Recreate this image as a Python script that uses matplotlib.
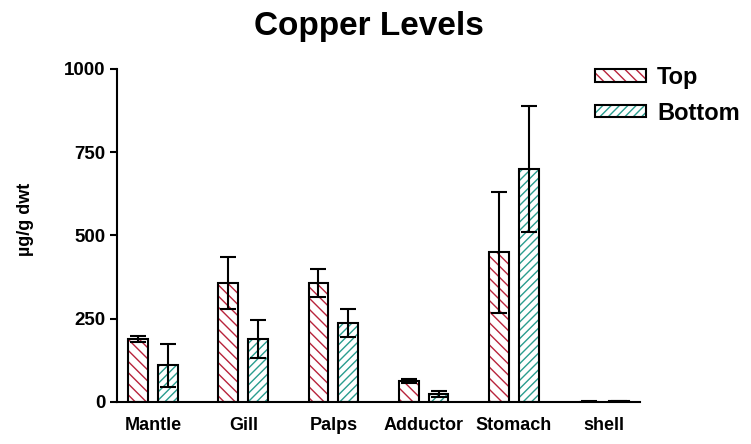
import matplotlib.pyplot as plt
import numpy as np
from matplotlib.patches import Patch

plt.rcParams['font.family'] = ['Liberation Sans', 'DejaVu Sans']
plt.rcParams['font.weight'] = 'bold'
plt.rcParams['hatch.linewidth'] = 1.0

# data
tissues = ['Mantle', 'Gill', 'Palps', 'Adductor', 'Stomach', 'shell']
top_mean = [188, 357, 357, 63, 450, 1]
top_err = [9, 79, 42, 5, 182, 1]
bottom_mean = [110, 189, 237, 24, 700, 2]
bottom_err = [65, 57, 42, 8, 190, 1]

red = '#b8243c'
teal = '#2a9d8f'

fig = plt.figure(figsize=(7.51, 4.44), dpi=100)
ax = fig.add_axes([0.156, 0.0946, 0.696, 0.75])

x = np.arange(len(tissues))
w = 0.22
off = 0.166

# hatch layer then black outline on top
for xs, ys, es, col, hatch in [(x - off, top_mean, top_err, red, '\\\\\\'),
                               (x + off, bottom_mean, bottom_err, teal, '////')]:
    ax.bar(xs, ys, w, facecolor='white', edgecolor=col, hatch=hatch, linewidth=0)
    ax.bar(xs, ys, w, facecolor='none', edgecolor='black', linewidth=1.5)
    ax.errorbar(xs, ys, yerr=es, fmt='none', ecolor='black', elinewidth=1.5,
                capsize=5.5, capthick=1.5)

ax.set_xlim(-0.4, 5.4)
ax.set_ylim(0, 1000)
ax.set_yticks([0, 250, 500, 750, 1000])
ax.set_xticks(x)
ax.set_xticklabels(tissues, fontsize=13, fontweight='bold')
ax.tick_params(axis='x', length=0, pad=11)
ax.tick_params(axis='y', length=5, width=1.5, labelsize=13.5, direction='out')
for lbl in ax.get_yticklabels():
    lbl.set_fontweight('bold')
ax.spines['top'].set_visible(False)
ax.spines['right'].set_visible(False)
ax.spines['left'].set_linewidth(1.5)
ax.spines['bottom'].set_linewidth(1.5)

ax.set_ylabel('µg/g dwt', fontsize=13, fontweight='bold', va='center')
ax.yaxis.set_label_coords(-0.176, 0.547)
fig.suptitle('Copper Levels', fontsize=24, fontweight='bold', x=0.491, y=0.975)

# legend with hatched patches
handles = [Patch(facecolor='white', edgecolor=red, hatch='\\\\\\', linewidth=0),
           Patch(facecolor='white', edgecolor=teal, hatch='////', linewidth=0)]
outline = [Patch(facecolor='none', edgecolor='black', linewidth=1.5),
           Patch(facecolor='none', edgecolor='black', linewidth=1.5)]
ax.legend([(h, o) for h, o in zip(handles, outline)], ['Top', 'Bottom'],
          loc='upper left', bbox_to_anchor=(595 / 751, 1 - 66 / 444),
          bbox_transform=fig.transFigure, frameon=False,
          prop={'weight': 'bold', 'size': 17}, borderpad=0, borderaxespad=0,
          handlelength=2.16, handleheight=0.42, handletextpad=0.47,
          labelspacing=0.53)

fig.savefig('out.png', dpi=100)
